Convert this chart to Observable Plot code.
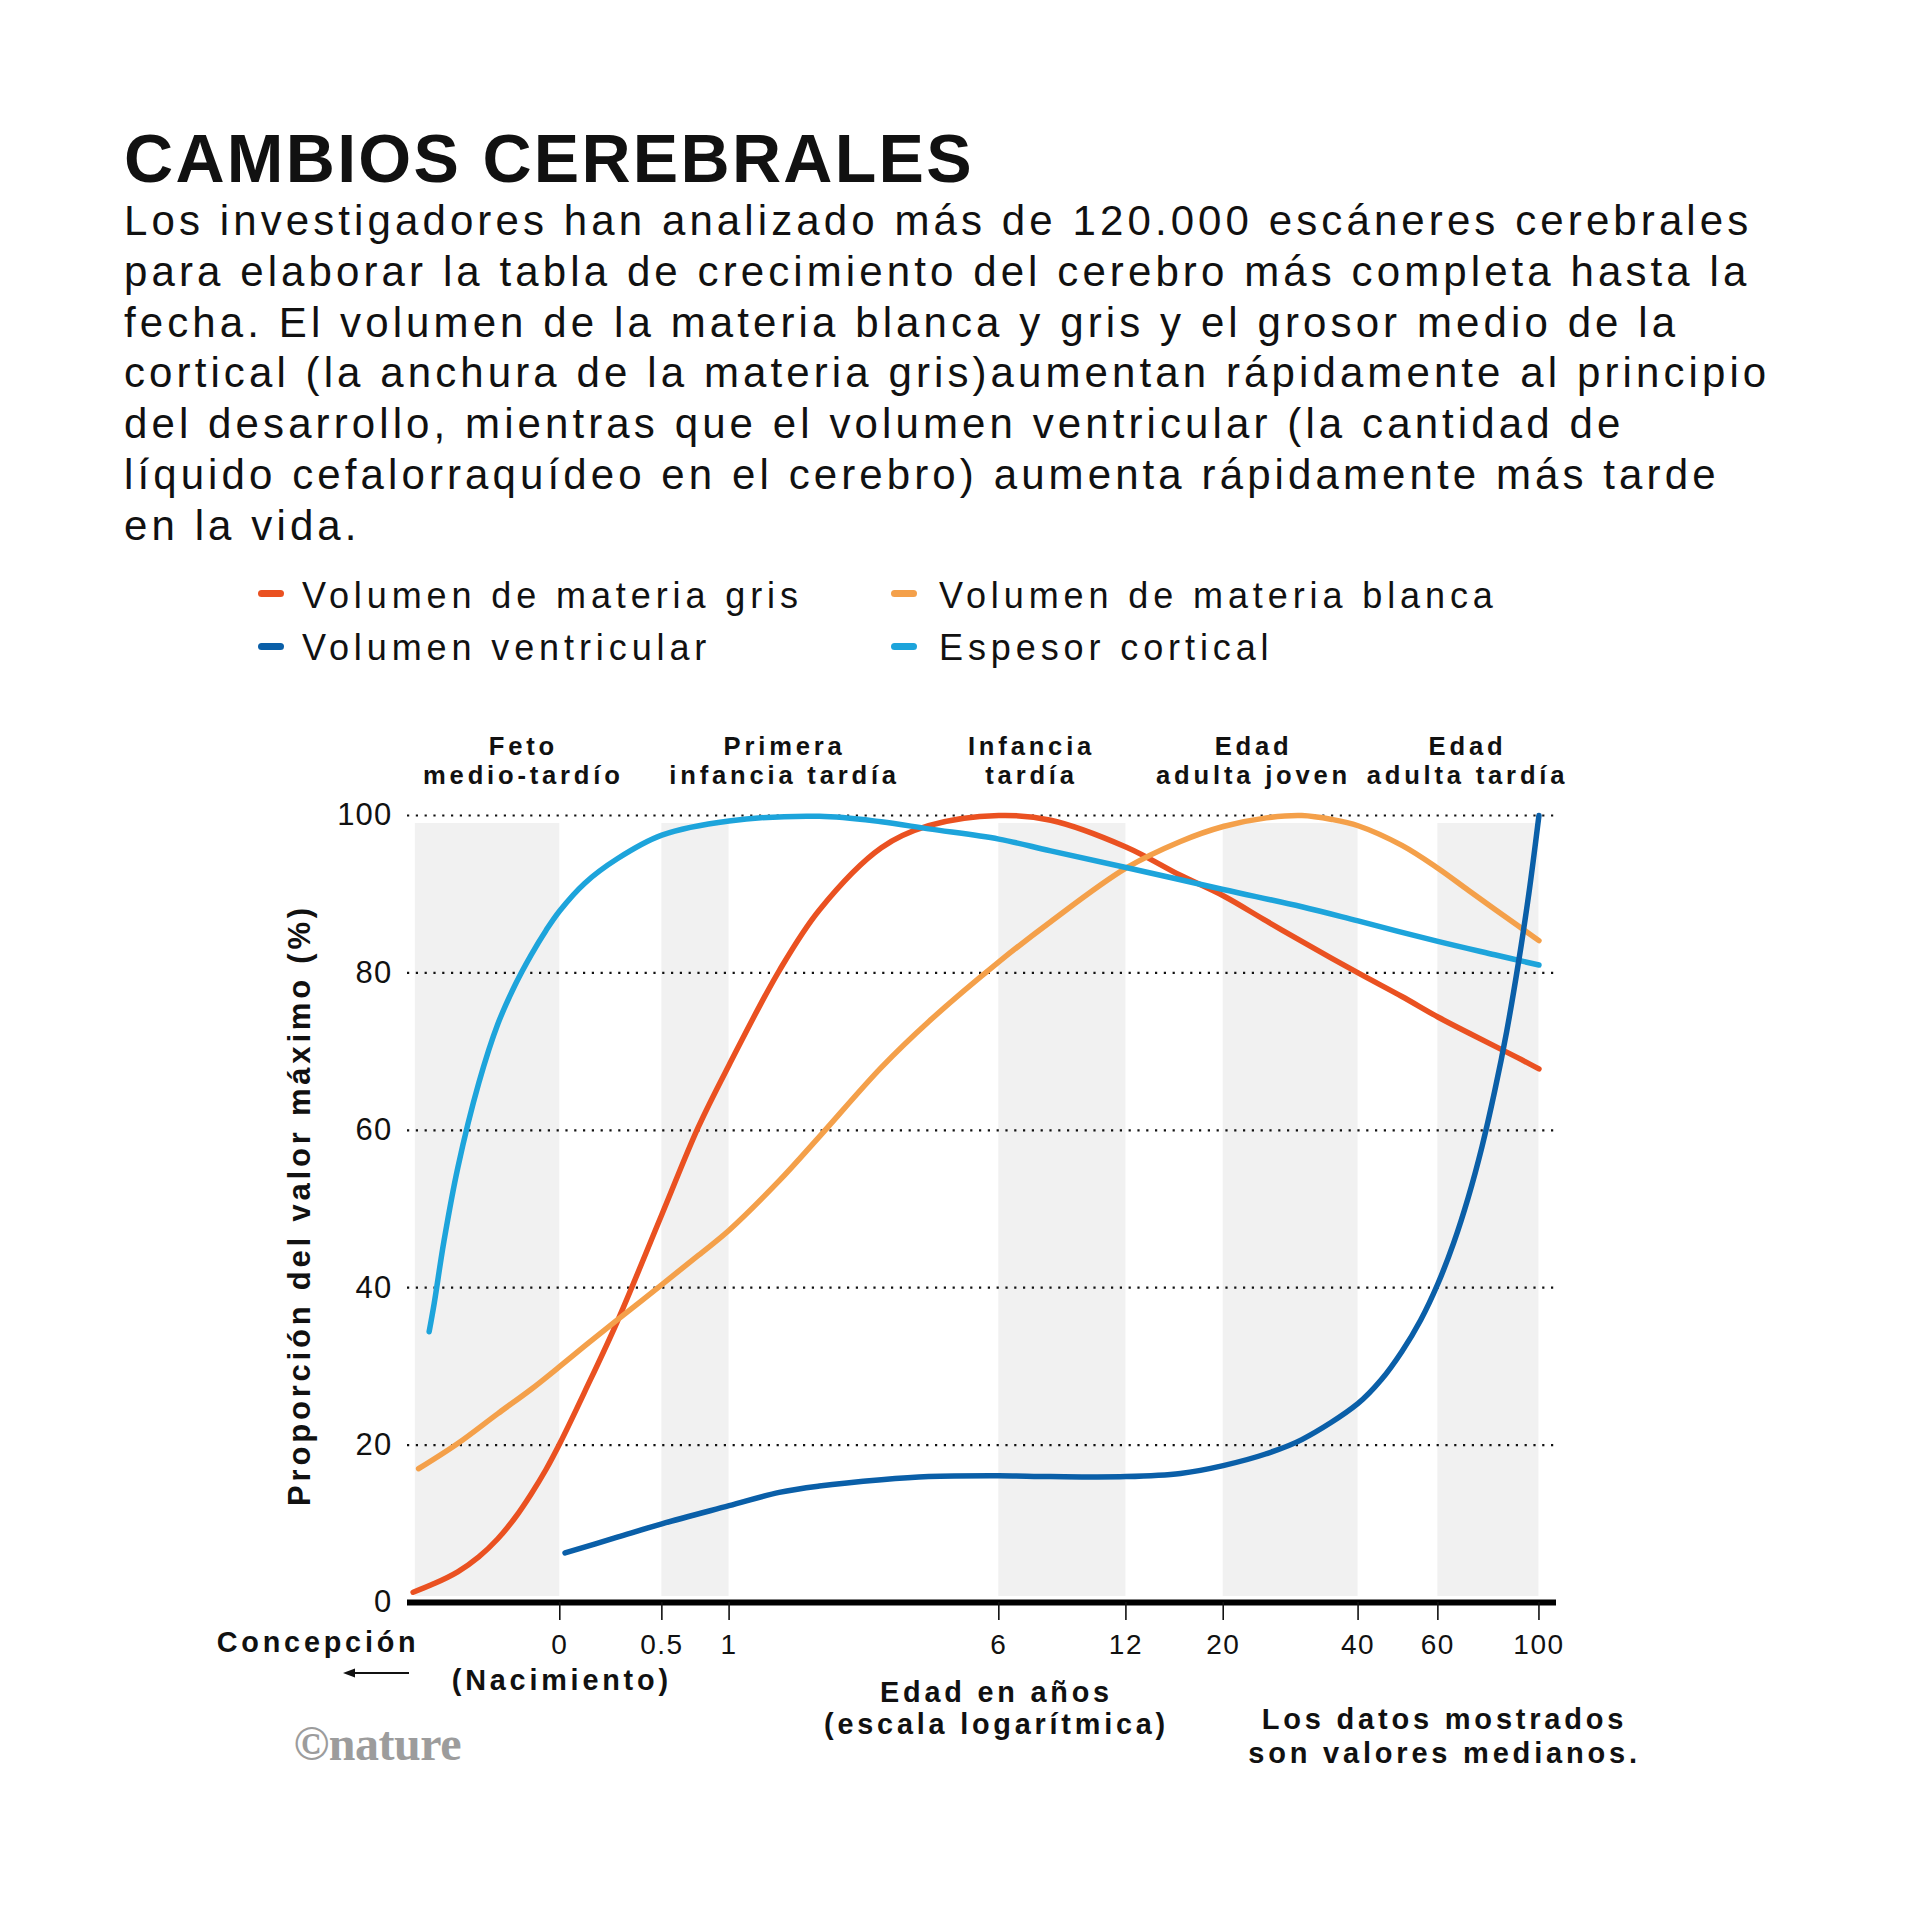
<!DOCTYPE html>
<html>
<head>
<meta charset="utf-8">
<script src="https://cdn.jsdelivr.net/npm/d3@7"></script>
<script src="https://cdn.jsdelivr.net/npm/@observablehq/plot@0.6"></script>
<style>
  html, body { margin: 0; padding: 0; background: #ffffff; }
  body { width: 1920px; height: 1920px; position: relative; overflow: hidden;
         font-family: "Liberation Sans", Arial, Helvetica, sans-serif; color: #111; }
  #title { position: absolute; left: 124px; top: 124px; font-size: 68px; line-height: 68px;
           font-weight: bold; letter-spacing: 2.3px; white-space: nowrap; }
  #subtitle { position: absolute; left: 124px; top: 196px; font-size: 42px; line-height: 50.8px;
              letter-spacing: 4.1px; white-space: nowrap; }
  .leg-text { position: absolute; font-size: 36px; line-height: 36px; letter-spacing: 4.9px; white-space: nowrap; }
  .leg-swatch { position: absolute; width: 26px; height: 7px; border-radius: 3.5px; }
  #chart { position: absolute; left: 0; top: 700px; }
  #chart svg text { letter-spacing: 3.8px; }
  #chart svg g[font-size="28"] text { letter-spacing: 1.5px; }
  #chart svg g[aria-label="y-axis tick label"] text { letter-spacing: 1.2px; }
  #chart svg g[font-family*="Serif"] text { letter-spacing: -0.5px; }
</style>
</head>
<body>
<div id="title"></div>
<div id="subtitle"></div>
<div id="legend"></div>
<div id="chart"></div>
<script>
// ---------- Texts ----------
const titleText = "CAMBIOS CEREBRALES";
const subtitleLines = [
  "Los investigadores han analizado más de 120.000 escáneres cerebrales",
  "para elaborar la tabla de crecimiento del cerebro más completa hasta la",
  "fecha. El volumen de la materia blanca y gris y el grosor medio de la",
  "cortical (la anchura de la materia gris)aumentan rápidamente al principio",
  "del desarrollo, mientras que el volumen ventricular (la cantidad de",
  "líquido cefalorraquídeo en el cerebro) aumenta rápidamente más tarde",
  "en la vida."
];
const yTitle = "Proporción del valor máximo (%)";
const conceptionLabel = "Concepción";
const birthLabel = "(Nacimiento)";
const xTitle = "Edad en años\n(escala logarítmica)";
const noteText = "Los datos mostrados\nson valores medianos.";
const creditText = "©nature";

// ---------- Series ----------
const seriesNames = ["Volumen de materia gris", "Volumen de materia blanca", "Volumen ventricular", "Espesor cortical"];
const seriesColors = ["#ea5121", "#f4a04a", "#0a5fa8", "#1da4db"];

// ages in years since birth (negative = before birth)
const agesGris = [-0.39, -0.35, -0.3, -0.25, -0.2, -0.15, -0.1, -0.05, 0, 0.1, 0.25, 0.5, 0.75, 1, 1.5, 2, 3, 4, 6, 8, 12, 16, 20, 25, 30, 40, 50, 60, 70, 80, 90, 100];
const valuesGris = [1.3, 2.4, 3.9, 5.8, 8.1, 10.8, 13.8, 16.9, 20.2, 26.8, 35.7, 49.3, 60.4, 68.3, 80.3, 88, 95.9, 98.7, 100, 99.4, 96, 92.4, 89.8, 86.6, 84, 80, 77, 74.4, 72.4, 70.7, 69.2, 67.8];

const agesBlanca = [-0.38, -0.3, -0.2, -0.1, 0, 0.1, 0.25, 0.5, 0.75, 1, 1.5, 2, 3, 4, 6, 8, 12, 16, 20, 25, 30, 35, 40, 50, 60, 70, 80, 90, 100];
const valuesBlanca = [17, 20.2, 24, 27.1, 30, 32.6, 35.9, 40.4, 44.1, 47.3, 53.6, 59.2, 68, 73.8, 81.4, 86.5, 93.3, 96.7, 98.6, 99.7, 100, 99.5, 98.7, 96.2, 93.3, 90.5, 88.1, 86, 84.1];

const agesVentricular = [0.02, 0.25, 0.5, 1, 1.5, 2, 3, 4, 6, 8, 12, 16, 20, 25, 30, 40, 45, 50, 55, 60, 65, 70, 75, 80, 85, 90, 95, 100];
const valuesVentricular = [6.3, 8.3, 10, 12.3, 14, 14.8, 15.6, 16, 16.1, 16, 16, 16.4, 17.4, 18.9, 20.7, 25.3, 28.3, 31.9, 35.9, 40.5, 45.7, 51.5, 57.9, 65, 72.6, 81, 90, 100];

const agesCortical = [-0.36, -0.35, -0.33, -0.3, -0.25, -0.2, -0.15, -0.1, -0.05, 0, 0.1, 0.25, 0.5, 1, 2, 3, 4, 6, 8, 12, 20, 30, 40, 60, 80, 100];
const valuesCortical = [34.4, 38, 45.9, 55.2, 66, 73.5, 78.5, 82.3, 85.4, 87.9, 91.4, 94.5, 97.5, 99.3, 99.9, 99.2, 98.3, 97, 95.5, 93.4, 90.6, 88.4, 86.6, 84, 82.3, 81];

// ---------- Life periods (shaded bands) ----------
const periodLabels = ["Feto\nmedio-tardío", "Primera\ninfancia tardía", "Infancia\ntardía", "Edad\nadulta joven", "Edad\nadulta tardía"];
const periodStart = [-0.386, 0.5, 6, 20, 60];
const periodEnd = [0, 1, 12, 40, 100];
const periodLabelAge = [-0.125, 1.56, 7.2, 23.4, 69.7];

// ---------- Axes ----------
const xTickAges = [0, 0.5, 1, 6, 12, 20, 40, 60, 100];
const xTickLabels = ["0", "0.5", "1", "6", "12", "20", "40", "60", "100"];
const yTicks = [0, 20, 40, 60, 80, 100];

// log scale of post-conception age
const GESTATION = 0.75;
const pc = a => a + GESTATION;

// ---------- HTML header ----------
document.getElementById("title").textContent = titleText;
document.getElementById("subtitle").innerHTML = subtitleLines.map(l => `<div>${l}</div>`).join("");

const legend = document.getElementById("legend");
const legendPos = [
  {swL: 258, txL: 302, swT: 590, txT: 577.5},
  {swL: 891, txL: 939, swT: 590, txT: 577.5},
  {swL: 258, txL: 302, swT: 643, txT: 629.5},
  {swL: 891, txL: 939, swT: 643, txT: 629.5}
];
seriesNames.forEach((name, i) => {
  const p = legendPos[i];
  const sw = document.createElement("div");
  sw.className = "leg-swatch";
  sw.style.left = p.swL + "px"; sw.style.top = p.swT + "px"; sw.style.background = seriesColors[i];
  const tx = document.createElement("div");
  tx.className = "leg-text";
  tx.style.left = p.txL + "px"; tx.style.top = p.txT + "px";
  tx.textContent = name;
  legend.appendChild(sw); legend.appendChild(tx);
});

// ---------- Build tables ----------
const rows = [];
const addSeries = (name, ages, values) => ages.forEach((a, i) => rows.push({series: name, age: a, pc: pc(a), value: values[i]}));
addSeries(seriesNames[0], agesGris, valuesGris);
addSeries(seriesNames[1], agesBlanca, valuesBlanca);
addSeries(seriesNames[3], agesCortical, valuesCortical);
addSeries(seriesNames[2], agesVentricular, valuesVentricular);

const periods = periodLabels.map((label, i) => ({label, start: periodStart[i], end: periodEnd[i], labelAge: periodLabelAge[i]}));
const xTicks = xTickAges.map((a, i) => ({age: a, label: xTickLabels[i]}));

const FONT = '"Liberation Sans", Arial, Helvetica, sans-serif';

// small left-pointing arrow under "Concepción", placed relative to the frame
const conceptionArrow = (index, scales, values, dimensions) => {
  const {marginLeft, height, marginBottom} = dimensions;
  const y = height - marginBottom + 71;
  const xStart = marginLeft + 2, xEnd = marginLeft - 64;
  const g = d3.create("svg:g").attr("aria-label", "conception-arrow");
  g.append("line").attr("x1", xStart).attr("x2", xEnd + 8).attr("y1", y).attr("y2", y)
    .attr("stroke", "#111").attr("stroke-width", 2);
  g.append("path").attr("d", `M${xEnd},${y}l12,-4.5v9z`).attr("fill", "#111");
  return g.node();
};

const chart = Plot.plot({
  width: 1920,
  height: 1100,
  marginTop: 115,
  marginBottom: 198,
  marginLeft: 407,
  marginRight: 364,
  style: {fontFamily: FONT, background: "transparent", color: "#111", overflow: "visible"},
  x: {type: "log", domain: [0.35, 110], axis: null},
  y: {domain: [0, 100], axis: null},
  color: {domain: seriesNames, range: seriesColors},
  marks: [
    Plot.rect(periods, {x1: d => pc(d.start), x2: d => pc(d.end), y1: 0, y2: 100, fill: "#f1f1f1", insetTop: 8, insetBottom: 6}),
    Plot.ruleY(yTicks.filter(v => v > 0), {stroke: "#111", strokeWidth: 2.2, strokeDasharray: "2.2,6.6"}),
    Plot.ruleY([0], {stroke: "#000", strokeWidth: 6}),
    Plot.axisX(xTicks.map(d => pc(d.age)), {tickFormat: () => "", tickSize: 18, tickPadding: 14, strokeWidth: 1.6, stroke: "#111", label: null}),
    Plot.text(xTicks, {x: d => pc(d.age), text: "label", frameAnchor: "bottom", lineAnchor: "bottom", dy: 51, fontSize: 28, fill: "#111"}),
    Plot.axisY(yTicks, {tickSize: 0, tickPadding: 15, fontSize: 31, label: null}),
    Plot.line(rows, {x: "pc", y: "value", z: "series", stroke: "series", strokeWidth: 5.5, curve: "catmull-rom", strokeLinecap: "round", strokeLinejoin: "round"}),
    Plot.text(periods, {x: d => pc(d.labelAge), text: "label", frameAnchor: "top", lineAnchor: "bottom", dy: -32, fontSize: 25.6, fontWeight: "bold", lineHeight: 1.1, fill: "#111"}),
    Plot.text([yTitle], {frameAnchor: "left", textAnchor: "middle", rotate: -90, dx: -107, dy: -4, fontSize: 31, fontWeight: "bold", fill: "#111"}),
    Plot.text([conceptionLabel], {frameAnchor: "bottom-left", textAnchor: "end", lineAnchor: "bottom", dx: 12, dy: 49, fontSize: 28.8, fontWeight: "bold", fill: "#111"}),
    conceptionArrow,
    Plot.text([{age: 0, label: birthLabel}], {x: d => pc(d.age), text: "label", frameAnchor: "bottom", lineAnchor: "bottom", dx: 2, dy: 87, fontSize: 28.8, fontWeight: "bold", fill: "#111"}),
    Plot.text([xTitle], {frameAnchor: "bottom-left", textAnchor: "middle", lineAnchor: "bottom", dx: 589, dy: 131, fontSize: 28.8, fontWeight: "bold", lineHeight: 1.1, fill: "#111"}),
    Plot.text([noteText], {frameAnchor: "bottom-left", textAnchor: "middle", lineAnchor: "bottom", dx: 1037, dy: 160, fontSize: 29, fontWeight: "bold", lineHeight: 1.16, fill: "#111"}),
    Plot.text([creditText], {frameAnchor: "bottom-left", textAnchor: "start", lineAnchor: "bottom", dx: -114, dy: 157, fontSize: 48, fontWeight: "bold", fontFamily: "Liberation Serif", fill: "#9c9c9c"})
  ]
});
document.getElementById("chart").appendChild(chart);
</script>
</body>
</html>
